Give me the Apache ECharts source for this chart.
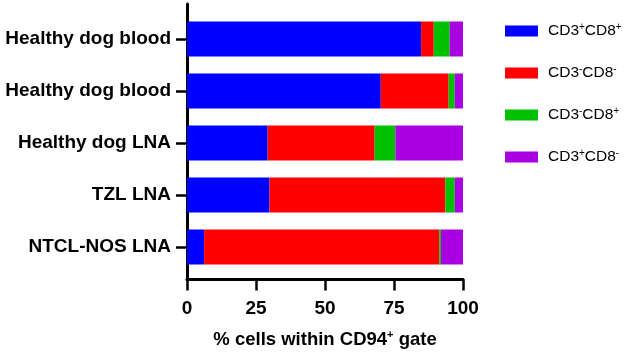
<!DOCTYPE html>
<html>
<head>
<meta charset="utf-8">
<script src="https://cdn.jsdelivr.net/npm/echarts@6/dist/echarts.min.js"></script>
<style>html,body{margin:0;padding:0;background:#fff;}#c{width:624px;height:354px;}</style>
</head>
<body>
<div id="c"></div>
<script>
const categories = ['Healthy dog blood', 'Healthy dog blood', 'Healthy dog LNA', 'TZL LNA', 'NTCL-NOS LNA'];
const seriesNames = ['CD3+CD8+', 'CD3-CD8-', 'CD3-CD8+', 'CD3+CD8-'];
const cd3posCd8pos = [84.8, 70.2, 29.2, 29.9, 6.2];
const cd3negCd8neg = [4.6, 24.6, 38.8, 63.7, 85.2];
const cd3negCd8pos = [5.8, 2.2, 7.5, 3.4, 0.6];
const cd3posCd8neg = [4.8, 3.0, 24.5, 3.0, 8.0];
const xTicks = [0, 25, 50, 75, 100];

const colors = ['#0000FF', '#FF0000', '#00C000', '#A800E0'];
const values = [cd3posCd8pos, cd3negCd8neg, cd3negCd8pos, cd3posCd8neg];
const FONT = 'Liberation Sans, Arial, sans-serif';

function supLabel(name) {
  const m = name.match(/^CD3([+-])CD8([+-])$/);
  return '{n|CD3}{s|' + m[1] + '}{n|CD8}{s|' + m[2] + '}';
}

const chart = echarts.init(document.getElementById('c'), null, {renderer: 'canvas'});
chart.setOption({
  animation: false,
  backgroundColor: '#fff',
  grid: [
    {left: 187, width: 276, top: 13, height: 260, containLabel: false},
    {left: 187, width: 276, top: 4, height: 277, containLabel: false}
  ],
  legend: {
    orient: 'vertical',
    left: 500,
    top: 17,
    itemWidth: 33,
    itemHeight: 11,
    itemGap: 25,
    icon: 'rect',
    data: seriesNames,
    formatter: supLabel,
    textStyle: {
      padding: [0, 0, 0, 5],
      rich: {
        n: {fontFamily: FONT, fontSize: 15.5, color: '#000', lineHeight: 18},
        s: {fontFamily: FONT, fontSize: 10, color: '#000', verticalAlign: 'top', lineHeight: 10}
      }
    }
  },
  xAxis: [
    {
      gridIndex: 0, type: 'value', min: 0, max: 100, show: false
    },
    {
      gridIndex: 1, type: 'value', min: 0, max: 100, interval: 25,
      axisLine: {show: true, lineStyle: {color: '#000', width: 3}},
      axisTick: {show: true, length: 11, lineStyle: {color: '#000', width: 2.5}},
      splitLine: {show: false},
      axisLabel: {
        margin: 20, color: '#000', fontFamily: FONT, fontWeight: 'bold', fontSize: 19,
        formatter: function (v) { return xTicks.indexOf(v) >= 0 ? String(v) : ''; }
      },
      name: '{t|% cells within CD94}{s|+}{t| gate}',
      nameLocation: 'middle',
      nameGap: 50,
      nameTextStyle: {
        rich: {
          t: {fontFamily: FONT, fontWeight: 'bold', fontSize: 18.5, color: '#000', lineHeight: 20},
          s: {fontFamily: FONT, fontWeight: 'bold', fontSize: 11, color: '#000', verticalAlign: 'top', lineHeight: 11}
        }
      }
    }
  ],
  yAxis: [
    {
      gridIndex: 0, type: 'category', inverse: true, data: categories,
      axisLine: {show: false},
      axisTick: {show: true, alignWithLabel: true, length: 11, lineStyle: {color: '#000', width: 2.5}},
      axisLabel: {margin: 16, color: '#000', fontFamily: FONT, fontWeight: 'bold', fontSize: 19}
    },
    {
      gridIndex: 1, type: 'value', min: 0, max: 1,
      axisLine: {show: true, lineStyle: {color: '#000', width: 3}},
      axisTick: {show: false}, axisLabel: {show: false}, splitLine: {show: false}
    }
  ],
  series: seriesNames.map(function (n, i) {
    return {
      name: n, type: 'bar', stack: 'total', xAxisIndex: 0, yAxisIndex: 0,
      barWidth: 35,
      itemStyle: {color: colors[i]},
      data: values[i]
    };
  })
});
</script>
</body>
</html>
